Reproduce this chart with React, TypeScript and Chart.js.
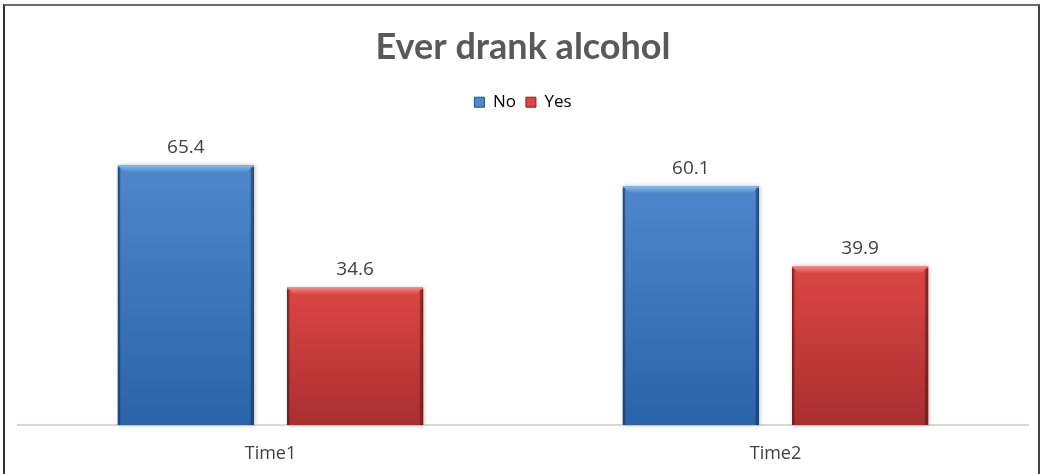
import React, { useEffect, useRef } from "react";
import { Chart, registerables } from "chart.js";

Chart.register(...registerables);

const TITLE = "Ever drank alcohol";
const CATEGORIES = ["Time1", "Time2"];
const SERIES_NAMES = ["No", "Yes"];
const NO_VALUES = [65.4, 60.1];
const YES_VALUES = [34.6, 39.9];
const Y_MAX = 76.6;

const PALETTE = [
  { top: "#4e87cb", bottom: "#2b63a8", light: "#8dbcec", dark: "#1f4f8c" },
  { top: "#dc4644", bottom: "#a92f2f", light: "#f08a86", dark: "#852222" },
];

const barBevel = {
  id: "barBevel",
  beforeDatasetsDraw(chart: any) {
    const ctx = chart.ctx;
    chart.data.datasets.forEach((_: any, di: number) => {
      const meta = chart.getDatasetMeta(di);
      const pal = PALETTE[di];
      meta.data.forEach((el: any) => {
        const { x, y, base, width } = el.getProps(["x", "y", "base", "width"], true);
        const l = x - width / 2;
        const r = x + width / 2;
        const h = base - y;
        ctx.save();
        ctx.shadowColor = "rgba(0,0,0,0.25)";
        ctx.shadowBlur = 4;
        ctx.shadowOffsetX = 1;
        ctx.shadowOffsetY = 0;
        const g = ctx.createLinearGradient(0, y, 0, base);
        g.addColorStop(0, pal.top);
        g.addColorStop(1, pal.bottom);
        ctx.fillStyle = g;
        ctx.fillRect(l, y, width, h);
        ctx.restore();
        ctx.save();
        const bv = 7;
        const tg = ctx.createLinearGradient(0, y, 0, y + bv);
        tg.addColorStop(0, pal.light);
        tg.addColorStop(1, pal.top);
        ctx.fillStyle = tg;
        ctx.beginPath();
        ctx.moveTo(l, y);
        ctx.lineTo(r, y);
        ctx.lineTo(r - bv, y + bv);
        ctx.lineTo(l + bv, y + bv);
        ctx.closePath();
        ctx.fill();
        const lg = ctx.createLinearGradient(l, 0, l + 3, 0);
        lg.addColorStop(0, pal.dark);
        lg.addColorStop(1, "rgba(0,0,0,0)");
        ctx.fillStyle = lg;
        ctx.fillRect(l, y + 2, 3, h - 2);
        const rg = ctx.createLinearGradient(r - 4, 0, r, 0);
        rg.addColorStop(0, "rgba(0,0,0,0)");
        rg.addColorStop(1, pal.dark);
        ctx.fillStyle = rg;
        ctx.fillRect(r - 4, y + 2, 4, h - 2);
        ctx.restore();
      });
    });
  },
};

const dataLabels = {
  id: "dataLabels",
  afterDatasetsDraw(chart: any) {
    const ctx = chart.ctx;
    ctx.save();
    ctx.font = "19px 'Open Sans', 'DejaVu Sans', sans-serif";
    ctx.fillStyle = "#404040";
    ctx.textAlign = "center";
    ctx.textBaseline = "middle";
    chart.data.datasets.forEach((ds: any, di: number) => {
      const meta = chart.getDatasetMeta(di);
      meta.data.forEach((el: any, i: number) => {
        const { x, y } = el.getProps(["x", "y"], true);
        ctx.fillText(ds.data[i].toFixed(1), x, y - 18);
      });
    });
    ctx.restore();
  },
};

export default function App() {
  const ref = useRef<HTMLCanvasElement | null>(null);
  useEffect(() => {
    if (!ref.current) return;
    const chart = new Chart(ref.current, {
      type: "bar",
      data: {
        labels: CATEGORIES,
        datasets: [
          {
            label: SERIES_NAMES[0],
            data: NO_VALUES,
            backgroundColor: "rgba(0,0,0,0)",
            borderWidth: 0,
            categoryPercentage: 0.67,
            barPercentage: 0.805,
          },
          {
            label: SERIES_NAMES[1],
            data: YES_VALUES,
            backgroundColor: "rgba(0,0,0,0)",
            borderWidth: 0,
            categoryPercentage: 0.67,
            barPercentage: 0.805,
          },
        ],
      },
      options: {
        animation: false,
        responsive: false,
        maintainAspectRatio: false,
        layout: { padding: { left: 18, right: 13, top: 8, bottom: 0 } },
        plugins: {
          title: {
            display: true,
            text: TITLE,
            color: "#595959",
            font: { family: "Lato, 'Open Sans', sans-serif", size: 36, weight: "bold" },
            padding: { top: 17.5, bottom: 15 },
          },
          legend: {
            display: true,
            labels: {
              boxWidth: 10,
              boxHeight: 10,
              color: "#404040",
              font: { family: "'Open Sans', 'DejaVu Sans', sans-serif", size: 17 },
              padding: 10,
              generateLabels: () =>
                SERIES_NAMES.map((n, i) => ({
                  text: n,
                  fillStyle: PALETTE[i].top,
                  strokeStyle: PALETTE[i].dark,
                  lineWidth: 1,
                  hidden: false,
                  datasetIndex: i,
                })),
            },
          },
          tooltip: { enabled: false },
        },
        scales: {
          x: {
            grid: { display: false, drawTicks: false },
            border: { display: true, color: "#ddd6d6", width: 2 },
            ticks: {
              color: "#404040",
              font: { family: "'Open Sans', 'DejaVu Sans', sans-serif", size: 18 },
              padding: 18,
            },
            afterFit: (scale: any) => {
              scale.height = 49;
            },
          },
          y: {
            display: false,
            min: 0,
            max: Y_MAX,
          },
        },
      },
      plugins: [barBevel, dataLabels],
    });
    return () => chart.destroy();
  }, []);
  return (
    <div style={{ position: "fixed", left: 0, top: 0, width: 1041, height: 474, background: "#fff" }}>
      <canvas ref={ref} width={1041} height={474} style={{ position: "absolute", left: 0, top: 0 }} />
      <div
        style={{
          position: "absolute",
          left: 3,
          top: 4,
          width: 1033,
          height: 480,
          borderTop: "2px solid #6a6a6a",
          borderLeft: "2px solid #333",
          borderRight: "2px solid #444",
          pointerEvents: "none",
        }}
      />
    </div>
  );
}
